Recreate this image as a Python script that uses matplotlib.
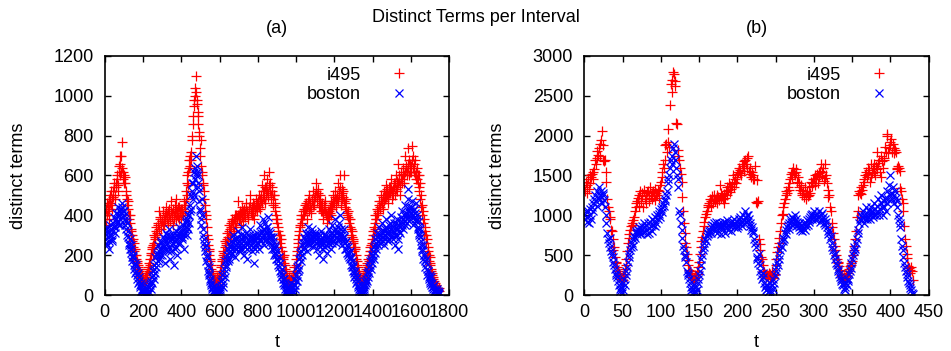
import numpy as np
import matplotlib
matplotlib.use("Agg")
from matplotlib import pyplot as plt

plt.rcParams['font.family'] = ['Liberation Sans', 'DejaVu Sans']
plt.rcParams['font.size'] = 13

## Panel (a): readings every 5 intervals (t = 0, 5, ...) ...
i495_a = [
    400, 350, 460, 420, 380, 480, 500, 450, 430, 520, 540, 480, 560, 600, 520, 650, 700, 620, 770, 580,
    600, 560, 520, 480, 430, 400, 360, 330, 300, 270, 240, 260, 200, 180, 160, 140, 120, 100, 90, 80,
    70, 60, 90, 80, 110, 140, 120, 180, 210, 240, 200, 260, 300, 280, 340, 310, 360, 420, 390, 330,
    370, 420, 350, 390, 440, 400, 360, 430, 380, 470, 410, 350, 400, 450, 380, 480, 420, 390, 440, 410,
    380, 430, 400, 470, 450, 520, 600, 550, 680, 650, 720, 780, 900, 950, 1000, 1100, 980, 920, 860, 800,
    700, 780, 600, 550, 480, 420, 380, 300, 250, 200, 180, 150, 120, 100, 80, 60, 70, 90, 50, 80,
    100, 120, 150, 180, 220, 210, 270, 250, 310, 290, 350, 330, 300, 380, 360, 320, 400, 340, 390, 470,
    380, 420, 350, 440, 400, 370, 430, 390, 460, 410, 380, 440, 500, 420, 400, 460, 380, 430, 480, 420,
    450, 500, 430, 470, 550, 490, 520, 600, 460, 540, 580, 510, 620, 560, 480, 540, 450, 500, 420, 380,
    380, 340, 300, 260, 280, 220, 180, 200, 150, 120, 100, 80, 60, 90, 70, 50, 80, 100, 140, 120,
    180, 220, 260, 300, 340, 380, 360, 420, 400, 450, 430, 380, 470, 420, 500, 460, 410, 480, 520, 450,
    500, 560, 470, 530, 440, 500, 420, 460, 380, 430, 470, 400, 360, 420, 380, 440, 400, 470, 430, 500,
    460, 520, 440, 480, 560, 500, 600, 450, 530, 490, 600, 440, 480, 400, 420, 360, 380, 300, 320, 260,
    280, 220, 240, 180, 150, 120, 100, 80, 60, 70, 90, 60, 100, 130, 160, 140, 200, 240, 220, 280,
    320, 300, 360, 400, 380, 430, 410, 470, 440, 500, 460, 430, 520, 480, 550, 500, 460, 540, 510, 580,
    480, 530, 560, 500, 600, 540, 520, 660, 570, 500, 620, 580, 640, 560, 700, 650, 600, 740, 680, 620,
    650, 750, 700, 620, 680, 580, 640, 560, 520, 600, 480, 440, 400, 360, 300, 320, 260, 200, 220, 170,
    150, 120, 100, 80, 60, 40, 50, 30, 20, 35]
boston_a = [
    310, 260, 340, 290, 230, 320, 350, 300, 280, 360, 390, 340, 410, 370, 440, 400, 350, 430, 460, 390,
    420, 380, 330, 360, 290, 250, 280, 210, 230, 170, 190, 130, 110, 150, 80, 60, 90, 40, 20, 50,
    10, 30, 5, 20, 0, 40, 15, 60, 30, 90, 120, 80, 150, 190, 140, 210, 250, 180, 230, 270,
    200, 290, 240, 160, 310, 260, 220, 330, 180, 280, 250, 300, 150, 270, 320, 240, 200, 290, 340, 260,
    310, 280, 350, 230, 330, 370, 300, 400, 360, 420, 500, 560, 480, 620, 580, 700, 650, 540, 600, 470,
    420, 350, 480, 300, 260, 220, 170, 190, 120, 140, 80, 60, 40, 20, 10, 30, 0, 15, 5, 25,
    40, 20, 70, 100, 60, 130, 170, 140, 200, 230, 180, 250, 270, 210, 300, 240, 190, 280, 260, 320,
    220, 250, 300, 340, 230, 270, 200, 290, 310, 180, 260, 240, 330, 280, 220, 300, 160, 270, 250, 310,
    290, 230, 350, 270, 320, 380, 250, 300, 360, 280, 340, 390, 260, 310, 290, 230, 270, 200, 240, 180,
    220, 150, 190, 120, 90, 130, 60, 80, 30, 50, 10, 20, 40, 5, 25, 60, 35, 15, 80, 50,
    100, 140, 90, 180, 210, 170, 250, 230, 290, 260, 310, 220, 340, 280, 250, 300, 270, 330, 240, 290,
    310, 260, 230, 290, 200, 270, 320, 250, 180, 280, 240, 300, 210, 260, 330, 280, 230, 310, 350, 270,
    300, 380, 260, 320, 340, 280, 400, 310, 250, 290, 330, 230, 270, 210, 240, 190, 220, 150, 170, 120,
    140, 90, 100, 60, 70, 40, 20, 35, 10, 30, 50, 20, 70, 60, 110, 90, 140, 170, 130, 200,
    220, 180, 250, 280, 230, 310, 270, 340, 260, 300, 360, 290, 250, 330, 380, 310, 270, 350, 300, 400,
    320, 280, 360, 250, 340, 380, 300, 230, 350, 310, 390, 420, 330, 370, 450, 400, 360, 530, 440, 380,
    410, 470, 350, 430, 380, 460, 400, 340, 370, 310, 290, 250, 220, 180, 200, 140, 160, 100, 120, 80,
    60, 90, 40, 30, 50, 20, 10, 30, 5, 15]
# ... and the readings in between (t = 2.5, 7.5, ...)
i495_a_mid = [
    380, 430, 400, 450, 430, 460, 520, 480, 490, 560, 500, 540, 580, 550, 620, 600, 660, 700, 640, 620,
    560, 590, 500, 450, 470, 380, 400, 320, 300, 280, 220, 230, 200, 170, 150, 130, 110, 90, 100, 70,
    80, 70, 60, 100, 90, 130, 160, 150, 200, 230, 250, 240, 290, 320, 300, 350, 330, 380, 350, 370,
    350, 380, 400, 370, 410, 380, 420, 400, 370, 420, 390, 430, 380, 410, 430, 400, 440, 380, 420, 430,
    410, 400, 450, 420, 480, 500, 560, 620, 640, 700, 680, 800, 860, 980, 1040, 1020, 960, 900, 820, 740,
    650, 620, 560, 520, 450, 400, 340, 280, 230, 220, 170, 130, 110, 90, 70, 80, 60, 70, 80, 100,
    110, 140, 170, 200, 190, 240, 260, 280, 270, 320, 310, 360, 340, 370, 340, 380, 360, 400, 380, 400,
    400, 380, 410, 390, 420, 400, 410, 440, 420, 390, 430, 460, 410, 440, 420, 400, 450, 420, 440, 460,
    470, 440, 480, 500, 460, 520, 480, 540, 500, 520, 490, 550, 520, 500, 520, 480, 500, 460, 440, 400,
    360, 320, 280, 300, 240, 200, 190, 160, 130, 110, 90, 70, 80, 60, 80, 70, 90, 120, 110, 150,
    200, 240, 280, 320, 350, 400, 380, 400, 430, 420, 460, 440, 450, 480, 440, 430, 470, 450, 480, 490,
    520, 500, 510, 480, 470, 440, 450, 420, 410, 450, 420, 410, 400, 390, 420, 410, 430, 450, 460, 470,
    490, 480, 500, 470, 520, 540, 500, 480, 510, 520, 470, 460, 430, 410, 390, 380, 340, 330, 290, 270,
    240, 230, 200, 170, 140, 110, 90, 70, 80, 60, 80, 90, 120, 110, 150, 180, 170, 220, 250, 260,
    300, 340, 330, 380, 400, 420, 450, 430, 470, 460, 490, 470, 500, 490, 520, 530, 500, 510, 540, 530,
    520, 500, 540, 560, 530, 570, 560, 600, 550, 580, 560, 610, 600, 620, 640, 620, 660, 640, 600, 660,
    620, 680, 640, 660, 600, 620, 580, 600, 540, 560, 500, 450, 420, 380, 340, 300, 280, 240, 200, 190,
    160, 130, 110, 90, 70, 60, 40, 30, 25, 20]
boston_a_mid = [
    280, 330, 250, 310, 270, 300, 330, 270, 320, 340, 310, 380, 360, 400, 350, 420, 380, 410, 440, 420,
    400, 350, 370, 300, 320, 260, 230, 250, 190, 200, 150, 160, 120, 100, 110, 70, 50, 60, 30, 20,
    20, 0, 25, 10, 30, 5, 40, 50, 70, 60, 100, 130, 110, 160, 200, 170, 220, 200, 260, 220,
    250, 230, 280, 270, 230, 300, 280, 240, 300, 220, 280, 260, 290, 230, 280, 300, 260, 310, 290, 320,
    290, 330, 300, 310, 360, 340, 380, 330, 400, 450, 430, 520, 560, 500, 640, 600, 620, 560, 520, 430,
    380, 400, 330, 280, 240, 250, 200, 150, 100, 110, 70, 50, 30, 40, 20, 5, 10, 30, 20, 10,
    30, 50, 80, 40, 110, 90, 150, 180, 170, 210, 220, 200, 240, 230, 260, 280, 230, 250, 290, 240,
    270, 230, 260, 280, 250, 300, 240, 260, 230, 280, 300, 270, 250, 260, 290, 240, 280, 230, 290, 260,
    260, 300, 280, 310, 290, 330, 300, 270, 320, 340, 300, 320, 290, 280, 250, 290, 230, 250, 210, 200,
    180, 170, 140, 160, 110, 100, 80, 50, 60, 20, 30, 10, 15, 30, 10, 40, 20, 50, 30, 70,
    70, 120, 150, 130, 190, 220, 200, 260, 240, 280, 270, 300, 260, 310, 280, 260, 310, 290, 270, 300,
    280, 300, 270, 250, 260, 300, 280, 230, 260, 300, 270, 250, 280, 290, 260, 300, 280, 260, 300, 320,
    330, 290, 310, 280, 360, 300, 330, 280, 300, 270, 290, 260, 230, 250, 200, 210, 180, 190, 140, 150,
    110, 120, 80, 90, 50, 30, 10, 25, 20, 10, 40, 30, 50, 80, 70, 120, 110, 150, 180, 160,
    200, 240, 210, 260, 290, 250, 300, 280, 320, 290, 270, 320, 300, 340, 290, 330, 310, 280, 360, 330,
    300, 340, 320, 300, 360, 330, 280, 320, 340, 370, 350, 380, 400, 350, 410, 380, 420, 480, 400, 420,
    440, 400, 420, 390, 410, 370, 380, 330, 300, 330, 270, 230, 250, 200, 170, 180, 130, 120, 90, 100,
    70, 50, 60, 40, 20, 30, 20, 10, 20, 5]

## Panel (b): one value per interval
i495_b = [
    1350, 1300, 1420, 1380, 1280, 1450, 1330, 1500, 1400, 1480,
    1520, 1460, 1550, 1580, 1700, 1650, 1810, 1720, 1760, 1850,
    1900, 1750, 1950, 2060, 1700, 1880, 1680, 1690, 1550, 1420,
    1200, 1100, 1050, 980, 950, 820, 800, 700, 570, 600,
    480, 420, 400, 350, 300, 280, 250, 230, 200, 180,
    220, 190, 260, 330, 380, 450, 550, 650, 720, 760,
    820, 860, 900, 940, 880, 980, 1050, 1100, 1150, 1180,
    1220, 1260, 1120, 1300, 1180, 1240, 1280, 1100, 1320, 1200,
    1250, 1150, 1290, 1310, 1220, 1180, 1350, 1260, 1200, 1280,
    1300, 1240, 1330, 1190, 1280, 1250, 1320, 1220, 1300, 1380,
    1420, 1550, 1480, 1650, 1600, 1700, 1880, 1900, 1800, 1920,
    2080, 1860, 2380, 2650, 2550, 2700, 2800, 2780, 2620, 2690,
    2160, 2150, 1820, 1750, 1700, 1600, 1520, 1420, 1230, 1050,
    900, 780, 650, 600, 520, 440, 380, 320, 300, 280,
    250, 230, 200, 210, 250, 190, 220, 300, 260, 350,
    420, 520, 600, 680, 730, 800, 860, 920, 980, 1020,
    1050, 1100, 1130, 1150, 1200, 1180, 1120, 1240, 1160, 1200,
    1250, 1180, 1210, 1260, 1150, 1230, 1190, 1380, 1220, 1280,
    1240, 1200, 1160, 1270, 1220, 1300, 1350, 1250, 1320, 1400,
    1370, 1290, 1330, 1390, 1500, 1420, 1360, 1450, 1400, 1520,
    1480, 1550, 1600, 1530, 1570, 1500, 1650, 1620, 1560, 1680,
    1700, 1640, 1590, 1720, 1750, 1560, 1600, 1520, 1480, 1550,
    1450, 1500, 1460, 1620, 1170, 1160, 1440, 1180, 700, 640,
    560, 480, 450, 380, 300, 290, 260, 240, 230, 250,
    220, 280, 260, 200, 240, 300, 230, 210, 250, 270,
    380, 450, 540, 600, 650, 720, 800, 900, 1000, 1020,
    1100, 1150, 1200, 1260, 1300, 1280, 1350, 1320, 1400, 1450,
    1520, 1480, 1550, 1600, 1530, 1510, 1580, 1540, 1420, 1480,
    1400, 1360, 1320, 1380, 1280, 1250, 1300, 1230, 1350, 1270,
    1200, 1300, 1240, 1260, 1350, 1280, 1420, 1370, 1400, 1450,
    1460, 1380, 1500, 1450, 1520, 1400, 1480, 1530, 1560, 1650,
    1490, 1550, 1600, 1430, 1640, 1470, 1500, 1400, 1320, 1230,
    1250, 1110, 1050, 900, 850, 780, 700, 620, 560, 500,
    450, 420, 400, 360, 320, 300, 250, 230, 200, 220,
    180, 210, 250, 240, 300, 280, 330, 360, 380, 400,
    430, 500, 560, 620, 700, 800, 980, 1050, 1260, 1300,
    1280, 1360, 1270, 1320, 1380, 1450, 1420, 1500, 1550, 1480,
    1600, 1520, 1570, 1420, 1640, 1480, 1530, 1600, 1650, 1550,
    1500, 1620, 1800, 1580, 1660, 1700, 1540, 1750, 1480, 1680,
    1600, 1700, 1720, 1860, 1800, 2020, 2000, 1780, 1850, 1920,
    1880, 1960, 1800, 1900, 1780, 1850, 1820, 1790, 1600, 1580,
    1620, 1600, 1560, 1340, 1300, 1200, 1150, 1050, 860, 700,
    610, 520, 460, 360, 340, 320, 280, 350, 300, 190]
boston_b = [
    1000, 950, 1060, 980, 920, 1050, 900, 1000, 1080, 960,
    1100, 1150, 1050, 1200, 1250, 1180, 1300, 1120, 1220, 1350,
    1260, 1200, 1300, 1150, 1250, 1280, 1190, 1100, 1000, 900,
    780, 700, 650, 720, 600, 550, 520, 480, 420, 380,
    330, 280, 250, 220, 180, 120, 80, 50, 100, 30,
    60, 150, 200, 120, 250, 300, 350, 420, 480, 520,
    560, 600, 650, 620, 700, 740, 720, 780, 800, 760,
    820, 780, 850, 800, 760, 830, 870, 790, 900, 850,
    820, 880, 760, 900, 840, 780, 920, 860, 800, 950,
    880, 930, 860, 980, 900, 1000, 950, 1020, 1050, 980,
    1080, 1040, 1100, 1150, 1120, 1200, 1180, 1250, 1300, 1400,
    1450, 1500, 1600, 1700, 1650, 1750, 1850, 1900, 1800, 1700,
    1600, 1500, 1450, 1350, 1050, 1000, 900, 820, 720, 620,
    560, 500, 480, 420, 300, 250, 280, 200, 150, 100,
    60, 30, 80, 120, 50, 20, 100, 60, 150, 200,
    250, 300, 380, 450, 500, 560, 600, 650, 700, 680,
    740, 780, 760, 800, 820, 850, 780, 880, 830, 900,
    860, 800, 920, 850, 780, 880, 900, 840, 760, 870,
    900, 830, 920, 860, 780, 900, 940, 850, 820, 880,
    910, 870, 800, 930, 890, 850, 960, 900, 880, 840,
    920, 870, 950, 900, 980, 920, 860, 1000, 940, 900,
    1050, 970, 1010, 920, 1000, 950, 900, 870, 820, 850,
    780, 800, 700, 650, 600, 480, 450, 400, 520, 380,
    300, 250, 200, 280, 220, 150, 100, 60, 120, 80,
    40, 100, 150, 60, 20, 120, 80, 200, 150, 250,
    300, 350, 420, 380, 450, 500, 560, 620, 600, 680,
    720, 700, 780, 760, 820, 850, 880, 830, 900, 950,
    920, 880, 980, 950, 900, 1000, 960, 870, 920, 880,
    850, 900, 820, 860, 800, 880, 840, 900, 820, 860,
    900, 940, 880, 960, 920, 980, 1000, 950, 1020, 980,
    1050, 960, 1000, 940, 1020, 980, 1050, 990, 920, 1000,
    960, 1030, 980, 900, 950, 880, 920, 850, 800, 760,
    820, 700, 740, 650, 600, 560, 500, 520, 450, 400,
    380, 330, 300, 260, 230, 200, 170, 140, 120, 80,
    100, 60, 150, 120, 200, 180, 260, 300, 340, 400,
    450, 500, 550, 600, 580, 650, 700, 780, 820, 900,
    960, 1000, 940, 980, 1050, 900, 1000, 960, 1100, 950,
    1020, 980, 1060, 950, 1000, 1100, 1050, 980, 1000, 1150,
    1080, 1000, 1120, 1050, 1200, 1000, 1080, 1150, 1250, 1100,
    1000, 1180, 1100, 1220, 1050, 1300, 1150, 1200, 1380, 1250,
    1500, 1280, 1200, 1350, 1250, 1150, 1300, 1220, 1180, 1100,
    1000, 950, 900, 850, 700, 620, 560, 480, 400, 350,
    300, 260, 220, 180, 150, 120, 90, 60, 30, 10]

# t for each series
t_i495_a = np.concatenate([np.arange(len(i495_a)) * 5, np.arange(len(i495_a_mid)) * 5 + 2.5])
t_boston_a = np.concatenate([np.arange(len(boston_a)) * 5, np.arange(len(boston_a_mid)) * 5 + 2.5])
v_i495_a = np.concatenate([i495_a, i495_a_mid])
v_boston_a = np.concatenate([boston_a, boston_a_mid])
t_i495_b = np.arange(len(i495_b))
t_boston_b = np.arange(len(boston_b))

panels = [
    ("(a)", t_i495_a, v_i495_a, t_boston_a, v_boston_a, (0, 1800), range(0, 1801, 200), (0, 1200), range(0, 1201, 200)),
    ("(b)", t_i495_b, i495_b, t_boston_b, boston_b, (0, 450), range(0, 451, 50), (0, 3000), range(0, 3001, 500)),
]

fig = plt.figure(figsize=(9.51, 3.51), dpi=100)
fig.text(0.5, 0.949, "Distinct Terms per Interval", ha='center', va='center', fontsize=13)

lefts = [0.1101, 0.6144]
for left, (name, tr, red, tb, blue, xlim, xt, ylim, yt) in zip(lefts, panels):
    ax = fig.add_axes([left, 0.1595, 0.3622, 0.681])
    ax.plot(tr, red, '+', color='#ff0000', ms=7.5, mew=0.9, label='i495')
    ax.plot(tb, blue, 'x', color='#0000ff', ms=6.2, mew=0.9, label='boston')
    ax.set_xlim(*xlim)
    ax.set_ylim(*ylim)
    ax.set_xticks(list(xt))
    ax.set_yticks(list(yt))
    ax.tick_params(direction='in', length=4.5, width=1, top=True, right=True, labelsize=13)
    ax.tick_params(axis='x', pad=6.5)
    ax.tick_params(axis='y', pad=8)
    for s in ax.spines.values():
        s.set_linewidth(1.2)
    ax.text(0.5, 1.113, name, transform=ax.transAxes, ha='center', va='center', fontsize=13)
    ax.set_xlabel("t", fontsize=13, labelpad=9)
    ax.set_ylabel("distinct terms", fontsize=13, labelpad=19)
    ax.legend(loc='upper right', bbox_to_anchor=(0.907, 0.955), markerfirst=False,
              frameon=False, borderpad=0, borderaxespad=0, handlelength=2,
              handletextpad=1.1, labelspacing=0.15, fontsize=13)

fig.savefig("out.png", dpi=100)
